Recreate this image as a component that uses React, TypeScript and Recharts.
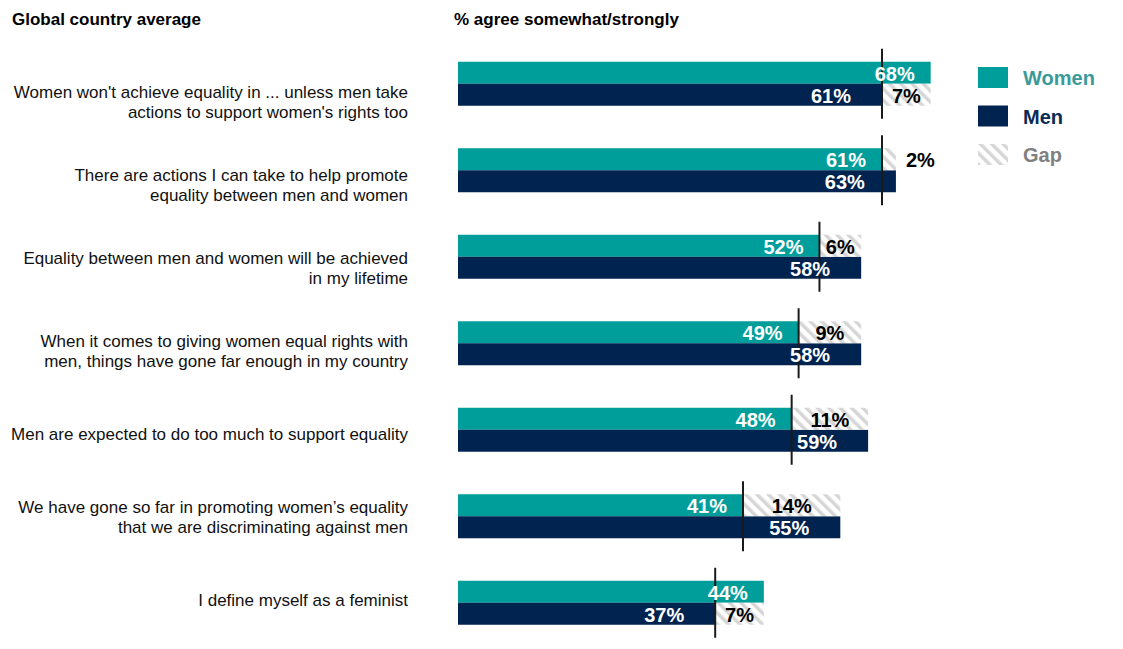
import React from 'react';
import { BarChart, Bar, XAxis, YAxis, LabelList } from 'recharts';

const categories = [
  "Women won't achieve equality in ... unless men take\nactions to support women's rights too",
  'There are actions I can take to help promote\nequality between men and women',
  'Equality between men and women will be achieved\nin my lifetime',
  'When it comes to giving women equal rights with\nmen, things have gone far enough in my country',
  'Men are expected to do too much to support equality',
  'We have gone so far in promoting women\u2019s equality\nthat we are discriminating against men',
  'I define myself as a feminist',
];
const women = [68, 61, 52, 49, 48, 41, 44];
const men = [61, 63, 58, 58, 59, 55, 37];

const TEAL = '#009e9a';
const NAVY = '#00234f';
const FONT = '"Liberation Sans", Arial, sans-serif';

const rows = categories.map((name, i) => ({
  name,
  women: women[i],
  men: men[i],
  womenGap: Math.max(0, men[i] - women[i]),
  menGap: Math.max(0, women[i] - men[i]),
}));

// label block drifts a bit relative to the bars, like the original slide
const CategoryTick = (props: any) => {
  const { y, payload, index } = props;
  const lines = String(payload.value).split('\n');
  const cy = y + 18 - 3.5 * index;
  const start = cy - ((lines.length - 1) * 20.5) / 2;
  return (
    <text x={408} y={start} textAnchor="end" fontFamily={FONT} fontSize={17} fill="#111" dominantBaseline="central">
      {lines.map((l, k) => (
        <tspan key={k} x={408} dy={k === 0 ? 0 : 20.5}>{l}</tspan>
      ))}
    </text>
  );
};

const valueLabel = (inset: number) => (props: any) => {
  const { x, y, width, height, value } = props;
  return (
    <text x={x + width - inset} y={y + height / 2 + 1} textAnchor="end" dominantBaseline="central"
      fontFamily={FONT} fontSize={20} fontWeight="bold" fill="#fff">
      {value}%
    </text>
  );
};

const gapShape = (row: 'w' | 'm') => (props: any) => {
  const { x, y, width, height, payload } = props;
  const gap = row === 'w' ? payload.womenGap : payload.menGap;
  if (!gap) return <g />;
  const top = row === 'w' ? y - 13 : y - height - 13;
  const bottom = row === 'w' ? y + 2 * height + 13 : y + height + 13;
  const narrow = width < 35;
  return (
    <g>
      <rect x={x} y={y} width={width} height={height} fill="url(#gapHatch)" />
      <line x1={x} x2={x} y1={top} y2={bottom} stroke="#1a1a1a" strokeWidth={2} />
      <text x={narrow ? x + width + 10 : x + width / 2} y={y + height / 2 + 1}
        textAnchor={narrow ? 'start' : 'middle'} dominantBaseline="central"
        fontFamily={FONT} fontSize={20} fontWeight="bold" fill="#000">
        {gap}%
      </text>
    </g>
  );
};

const legendItems = [
  { label: 'Women', color: '#3a9a9a', fill: TEAL },
  { label: 'Men', color: '#0b2a55', fill: NAVY },
  { label: 'Gap', color: '#808080', fill: 'url(#gapHatch)' },
];

export default function App() {
  return (
    <div style={{ position: 'absolute', left: 0, top: 0, width: 1123, height: 649, background: '#fff', fontFamily: FONT }}>
      <svg width={0} height={0} style={{ position: 'absolute' }}>
        <defs>
          <pattern id="gapHatch" patternUnits="userSpaceOnUse" width={8} height={8} patternTransform="rotate(-45)">
            <rect width={8} height={8} fill="#fff" />
            <rect x={0} width={3.5} height={8} fill="#d6d6d6" />
          </pattern>
        </defs>
      </svg>
      <div style={{ position: 'absolute', left: 12, top: 10, fontSize: 17, fontWeight: 'bold', color: '#000' }}>
        Global country average
      </div>
      <div style={{ position: 'absolute', left: 454, top: 10, fontSize: 17, fontWeight: 'bold', color: '#000' }}>
        % agree somewhat/strongly
      </div>
      <BarChart
        width={1123}
        height={649}
        data={rows}
        layout="vertical"
        barSize={22}
        barGap={0}
        margin={{ top: 40.75, right: 39.4, bottom: 2.75, left: 0 }}
      >
        <XAxis type="number" domain={[0, 90]} hide />
        <YAxis type="category" dataKey="name" width={458} axisLine={false} tickLine={false} interval={0} tick={<CategoryTick />} />
        <Bar dataKey="women" stackId="w" fill={TEAL} isAnimationActive={false}>
          <LabelList dataKey="women" content={valueLabel(16)} />
        </Bar>
        <Bar dataKey="men" stackId="m" fill={NAVY} isAnimationActive={false}>
          <LabelList dataKey="men" content={valueLabel(31)} />
        </Bar>
        <Bar dataKey="womenGap" stackId="w" isAnimationActive={false} shape={gapShape('w')} />
        <Bar dataKey="menGap" stackId="m" isAnimationActive={false} shape={gapShape('m')} />
      </BarChart>
      <svg width={145} height={110} style={{ position: 'absolute', left: 978, top: 62 }}>
        {legendItems.map((it, i) => (
          <g key={it.label} transform={`translate(0, ${5 + i * 38.5})`}>
            <rect x={0} y={0} width={30} height={21} fill={it.fill} />
            <text x={45} y={11} dominantBaseline="central" fontFamily={FONT} fontSize={20} fontWeight="bold" fill={it.color}>
              {it.label}
            </text>
          </g>
        ))}
      </svg>
    </div>
  );
}
